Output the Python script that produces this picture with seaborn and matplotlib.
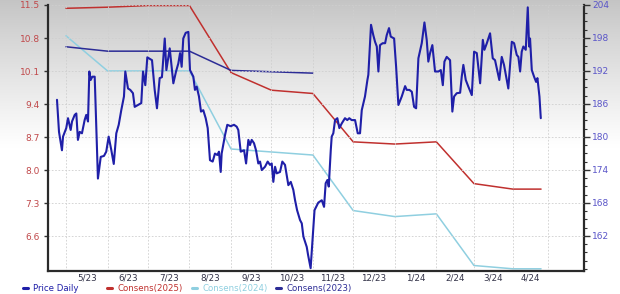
import numpy as np
import pandas as pd
import matplotlib
matplotlib.use("Agg")
import matplotlib.pyplot as plt
import seaborn as sns
from matplotlib.lines import Line2D
from matplotlib.ticker import MultipleLocator, FixedLocator, NullFormatter

# ---------------- data ----------------
# x unit: chart days, 0 = start of May 2023 (gridline positions as drawn on the chart)
month_starts = [0, 31, 61, 92, 123, 153, 184, 214, 245, 276, 304, 333, 359]
month_labels = ["5/23", "6/23", "7/23", "8/23", "9/23", "10/23", "11/23",
                "12/23", "1/24", "2/24", "3/24", "4/24"]

price_day = [
    -6.7, -5.2, -3.0, -2.2, 0.2, 1.5, 3.5, 4.5, 6.5, 7.7,
    8.9, 10.2, 11.9, 13.9, 15.1, 16.4, 17.4, 18.4, 19.6, 21.4,
    23.8, 25.9, 28.3, 30.0, 31.8, 33.8, 35.6, 37.5, 39.3, 41.2,
    43.2, 44.2, 46.2, 47.9, 49.9, 51.2, 53.7, 56.1, 57.4, 59.1,
    60.6, 64.1, 66.1, 67.8, 69.8, 71.5, 73.6, 74.8, 77.3, 80.0,
    82.0, 83.7, 85.0, 86.2, 87.4, 89.2, 91.2, 92.4, 94.9, 96.1,
    97.4, 99.1, 100.6, 102.3, 104.1, 105.6, 107.3, 109.3, 111.0, 112.8,
    114.0, 115.3, 116.0, 118.5, 120.2, 122.7, 125.2, 127.2, 128.4, 130.2,
    132.7, 134.2, 135.9, 137.1, 138.4, 140.1, 141.6, 143.3, 144.6, 145.9,
    148.3, 150.3, 152.0, 153.3, 154.5, 155.8, 157.0, 159.5, 161.2, 163.2,
    164.5, 165.7, 167.5, 169.4, 170.7, 172.2, 174.4, 175.7, 176.9, 179.4,
    180.4, 182.3, 185.2, 188.0, 190.6, 192.3, 193.5, 194.8, 195.8, 197.3,
    198.0, 199.2, 200.5, 202.2, 203.7, 205.5, 207.9, 209.6, 211.1, 212.9,
    215.4, 217.4, 219.1, 220.4, 222.8, 224.6, 225.3, 227.3, 229.0, 230.3,
    231.6, 232.8, 234.0, 236.0, 237.8, 239.0, 240.7, 242.0, 244.5, 246.0,
    247.7, 250.2, 252.7, 253.9, 255.9, 257.7, 259.4, 260.9, 262.6, 265.1,
    267.1, 268.8, 270.0, 271.3, 273.0, 275.0, 277.5, 279.3, 280.8, 282.0,
    283.7, 286.2, 287.9, 289.2, 291.2, 293.7, 294.9, 296.1, 297.9, 299.8,
    302.4, 304.1, 306.1, 308.6, 310.6, 311.8, 313.6, 316.0, 318.0, 319.7,
    321.5, 322.9, 324.7, 326.4, 328.5, 329.6, 332.2, 333.9, 335.9, 337.1,
    338.4, 339.6, 340.8, 342.6, 344.1, 345.1, 345.8, 347.1, 348.8, 350.3,
    351.3, 352.8, 353.8,
]
price_val = [
    9.49, 8.81, 8.42, 8.71, 8.89, 9.10, 8.85, 9.03, 9.17, 9.20,
    8.64, 8.81, 8.78, 9.06, 9.17, 9.03, 10.09, 9.91, 9.98, 9.98,
    7.82, 8.28, 8.30, 8.39, 8.71, 8.42, 8.13, 8.78, 8.96, 9.27,
    9.56, 10.09, 9.73, 9.70, 9.63, 9.34, 9.38, 9.42, 10.09, 9.80,
    10.39, 10.33, 9.70, 9.31, 9.95, 9.97, 10.79, 10.12, 10.58, 9.84,
    10.09, 10.26, 10.48, 10.19, 10.79, 10.91, 10.93, 10.12, 9.98, 9.70,
    9.77, 9.56, 9.24, 9.27, 9.10, 8.89, 8.21, 8.18, 8.35, 8.32,
    8.39, 7.96, 8.35, 8.74, 8.96, 8.93, 8.96, 8.92, 8.85, 8.39,
    8.42, 8.14, 8.64, 8.53, 8.64, 8.57, 8.42, 8.14, 8.18, 8.00,
    8.07, 8.18, 8.11, 8.14, 7.75, 8.07, 7.93, 7.96, 8.18, 8.11,
    7.89, 7.68, 7.75, 7.58, 7.36, 7.15, 6.94, 6.87, 6.59, 6.37,
    6.20, 5.92, 7.15, 7.31, 7.36, 7.22, 7.72, 7.79, 7.65, 8.42,
    8.71, 8.78, 9.06, 9.10, 8.89, 8.99, 9.10, 9.06, 9.10, 9.06,
    9.06, 8.78, 8.78, 9.27, 9.56, 9.91, 10.02, 11.08, 10.86, 10.72,
    10.62, 10.09, 10.65, 10.69, 10.69, 10.86, 11.01, 10.83, 10.79, 10.19,
    9.38, 9.56, 9.78, 9.70, 9.70, 9.66, 9.34, 9.31, 10.37, 10.69,
    11.13, 10.76, 10.30, 10.48, 10.65, 10.09, 10.09, 10.12, 9.80, 10.30,
    10.40, 10.33, 9.24, 9.56, 9.63, 9.64, 9.98, 10.23, 9.91, 9.77,
    9.59, 10.51, 10.48, 9.84, 10.76, 10.55, 10.69, 10.90, 10.37, 10.33,
    10.09, 9.91, 10.40, 10.23, 9.91, 9.73, 10.72, 10.69, 10.44, 10.40,
    10.09, 10.51, 10.62, 10.55, 11.45, 10.62, 10.79, 10.12, 9.98, 9.87,
    9.95, 9.56, 9.10,
]

cons2025_day = [0, 31, 61, 92, 123, 153, 184, 214, 245, 276, 304, 333, 354]
cons2025_val = [203.4, 203.6, 203.9, 203.9, 191.7, 188.5, 187.9, 179.1, 178.7, 179.1, 171.5, 170.5, 170.5]

cons2024_day = [0, 31, 61, 92, 123, 184, 214, 245, 276, 304, 333, 354]
cons2024_val = [198.4, 192.0, 192.0, 192.0, 177.8, 176.7, 166.6, 165.5, 166.0, 156.6, 156.0, 156.0]

cons2023_day = [0, 31, 92, 123, 184]
cons2023_val = [196.4, 195.6, 195.6, 192.1, 191.6]

left_ticks = [6.6, 7.3, 8.0, 8.7, 9.4, 10.1, 10.8, 11.5]
right_ticks = [162, 168, 174, 180, 186, 192, 198, 204]

# ---------------- style ----------------
C_PRICE = "#1f1fa8"
C_2025 = "#c0302e"
C_2024 = "#8fcfe0"
C_2023 = "#2c2c96"
C_LEFT = "#c0484a"
C_RIGHT = "#5a55c8"
C_XLAB = "#333348"

sns.set_theme(style="white")
plt.rcParams["font.family"] = ["DejaVu Sans"]

W, H = 620, 294
fig = plt.figure(figsize=(W / 100, H / 100), dpi=100)

# gradient background
bg = fig.add_axes([0, 0, 1, 1], zorder=0)
rows = np.linspace(0, 1, 300)[:, None]  # 0 top -> 1 bottom
shade = np.clip(rows / 0.5, 0, 1) ** 0.9
gray = 0.77 + (1 - 0.77) * shade
img = np.dstack([gray, gray, gray])
bg.imshow(img, aspect="auto", extent=[0, 1, 0, 1], origin="upper")
bg.set_axis_off()

L, R, B, T = 48, 584, 271, 5
ax = fig.add_axes([L / W, 1 - B / H, (R - L) / W, (B - T) / H])
ax2 = ax.twinx()
ax.set_zorder(3)
ax2.set_zorder(2)
ax.patch.set_visible(False)
ax2.patch.set_visible(False)

# consensus lines (right axis)
for d, v, c in [(cons2025_day, cons2025_val, C_2025),
                (cons2024_day, cons2024_val, C_2024),
                (cons2023_day, cons2023_val, C_2023)]:
    sns.lineplot(x=d, y=v, ax=ax2, color=c, linewidth=1.1, estimator=None, sort=False)

# price line (left axis)
sns.lineplot(x=price_day, y=price_val, ax=ax, color=C_PRICE, linewidth=1.5,
             estimator=None, sort=False)
for ln in ax.get_lines():
    ln.set_solid_joinstyle("round")

ax.set_xlim(-13.4, 386)
ax.set_ylim(5.86, 11.5)
ax2.set_ylim(155.6, 204)

# grid
ax.set_yticks(left_ticks)
ax.set_yticklabels([f"{t:.1f}" for t in left_ticks])
ax.xaxis.set_major_locator(FixedLocator(month_starts))
ax.xaxis.set_major_formatter(NullFormatter())
mids = [(month_starts[i] + month_starts[i + 1]) / 2 for i in range(len(month_labels))]
ax.xaxis.set_minor_locator(FixedLocator(mids))
ax.set_xticklabels(month_labels, minor=True)
ax.grid(True, which="major", axis="both", color="#cfcfcf", linestyle=(0, (2, 2)), linewidth=0.6)
ax.set_axisbelow(True)

ax.tick_params(axis="y", which="major", direction="out", length=3, width=1,
               color="#333333", labelsize=6.5, labelcolor=C_LEFT, pad=3, left=True)
ax.tick_params(axis="x", which="both", length=0, labelsize=6.3, labelcolor=C_XLAB, pad=2)

ax2.set_yticks(right_ticks)
ax2.set_yticklabels([str(t) for t in right_ticks])
ax2.yaxis.set_minor_locator(MultipleLocator(1.5))
ax2.tick_params(axis="y", which="major", direction="out", length=4, width=1,
                color="#333333", labelsize=6.5, labelcolor=C_RIGHT, pad=2, right=True)
ax2.tick_params(axis="y", which="minor", direction="out", length=2, width=0.8,
                color="#333333", right=True)

for s in ["top", "right"]:
    ax.spines[s].set_visible(False)
for s in ["top", "left", "bottom"]:
    ax2.spines[s].set_visible(False)
for sp in [ax.spines["left"], ax.spines["bottom"], ax2.spines["right"]]:
    sp.set_color("#2a2a2a")
    sp.set_linewidth(1.6)
ax.set_xlabel("")
ax.set_ylabel("")
ax2.set_ylabel("")

# legend (items at fixed intervals)
items = [("Price Daily", C_PRICE), ("Consens(2025)", C_2025),
         ("Consens(2024)", C_2024), ("Consens(2023)", C_2023)]
starts = [23, 107, 192, 276]
for (lab, c), x0 in zip(items, starts):
    h = Line2D([0], [0], color=c, linewidth=2.2)
    fig.legend([h], [lab], loc="center left", bbox_to_anchor=(x0 / W, 1 - 288.5 / H),
               frameon=False, fontsize=6.2, handlelength=0.6, handletextpad=0.6,
               borderpad=0, borderaxespad=0, labelcolor=c)

fig.savefig("out.png", dpi=100)
